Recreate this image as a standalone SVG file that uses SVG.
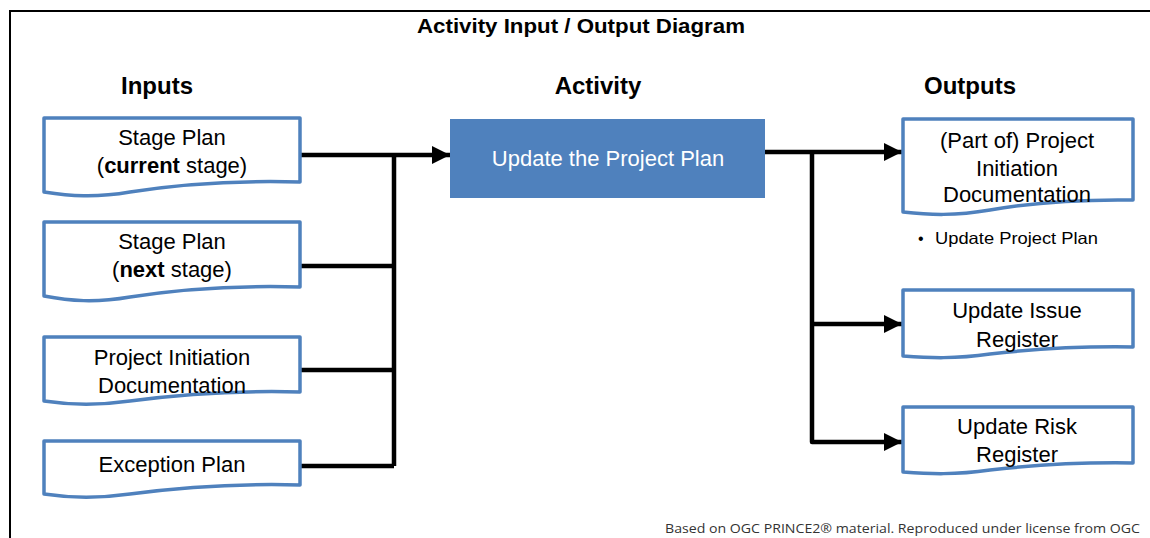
<svg xmlns="http://www.w3.org/2000/svg" width="1150" height="538" viewBox="0 0 1150 538">
<style>
.doc{fill:#fff;stroke:#4F81BD;stroke-width:3.5;stroke-linejoin:round}
.t{font-family:"Liberation Sans",Arial,sans-serif;font-size:22px;fill:#000;text-anchor:middle}
.h{font-family:"Liberation Sans",Arial,sans-serif;font-weight:bold;font-size:24px;fill:#000;text-anchor:middle}
.c{fill:none;stroke:#000;stroke-width:4.5;stroke-linejoin:round}
</style>
<defs>
<marker id="ah" viewBox="0 0 10 10" refX="10" refY="5" markerWidth="4.2" markerHeight="4" markerUnits="strokeWidth" orient="auto">
<path d="M0,0 L10,5 L0,10 z" fill="#000"/>
</marker>
</defs>
<rect width="1150" height="538" fill="#fff"/>
<path d="M10,545 V11 H1160" fill="none" stroke="#000" stroke-width="2"/>
<text x="581" y="33" class="h" style="font-size:21px" textLength="328" lengthAdjust="spacingAndGlyphs">Activity Input / Output Diagram</text>
<text x="157" y="94" class="h">Inputs</text>
<text x="598" y="94" class="h">Activity</text>
<text x="970" y="94" class="h">Outputs</text>

<g id="connectors">
<path class="c" d="M300,155 H450" marker-end="url(#ah)"/>
<path class="c" d="M394,155 V466"/>
<path class="c" d="M300,266 H394"/>
<path class="c" d="M300,370 H394"/>
<path class="c" d="M300,466 H394"/>
<path class="c" d="M765,152 H902" marker-end="url(#ah)"/>
<path class="c" d="M812,152 V442 H902" marker-end="url(#ah)"/>
<path class="c" d="M812,324 H902" marker-end="url(#ah)"/>
</g>

<g id="in1">
<path class="doc" d="M44,118 H300 V182 C226,180 168,186 130,192 C95,198 70,196 44,192 Z"/>
<text x="172" y="145" class="t">Stage Plan</text>
<text x="172" y="173" class="t">(<tspan font-weight="bold">current</tspan> stage)</text>
</g>
<g id="in2">
<path class="doc" d="M44,222 H300 V287 C226,285 168,291 130,297 C95,303 70,301 44,296 Z"/>
<text x="172" y="249" class="t">Stage Plan</text>
<text x="172" y="277" class="t">(<tspan font-weight="bold">next</tspan> stage)</text>
</g>
<g id="in3">
<path class="doc" d="M44,337 H300 V392 C226,390 168,396 130,401 C95,406 70,405 44,401 Z"/>
<text x="172" y="365" class="t">Project Initiation</text>
<text x="172" y="393" class="t">Documentation</text>
</g>
<g id="in4">
<path class="doc" d="M44,441 H300 V485 C226,483 168,489 130,494 C95,499 70,498 44,494 Z"/>
<text x="172" y="472" class="t">Exception Plan</text>
</g>

<g id="activity">
<rect x="450" y="119" width="315" height="79" fill="#4F81BD"/>
<text x="608" y="166" class="t" style="fill:#fff">Update the Project Plan</text>
</g>

<g id="out1">
<path class="doc" d="M903,119 H1133 V200 C1070,199 1025,204 990,210 C955,216 930,215 903,212 Z"/>
<text x="1017" y="148" class="t">(Part of) Project</text>
<text x="1017" y="176" class="t">Initiation</text>
<text x="1017" y="202" class="t">Documentation</text>
<text x="918" y="244" style="font-family:'Liberation Sans',Arial,sans-serif;font-size:16px">•</text>
<text x="935" y="244" style="font-family:'Liberation Sans',Arial,sans-serif;font-size:16.5px" textLength="163" lengthAdjust="spacingAndGlyphs">Update Project Plan</text>
</g>
<g id="out2">
<path class="doc" d="M903,290 H1133 V347 C1070,346 1025,350 990,354 C955,359 930,358 903,356 Z"/>
<text x="1017" y="318" class="t">Update Issue</text>
<text x="1017" y="347" class="t">Register</text>
</g>
<g id="out3">
<path class="doc" d="M903,407 H1133 V463 C1070,462 1025,466 990,470 C955,475 930,474 903,472 Z"/>
<text x="1017" y="434" class="t">Update Risk</text>
<text x="1017" y="462" class="t">Register</text>
</g>

<text x="1140" y="533" text-anchor="end" style="font-family:'Open Sans','Liberation Sans',sans-serif;font-size:12px;fill:#333" textLength="475" lengthAdjust="spacingAndGlyphs">Based on OGC PRINCE2® material. Reproduced under license from OGC</text>
</svg>
